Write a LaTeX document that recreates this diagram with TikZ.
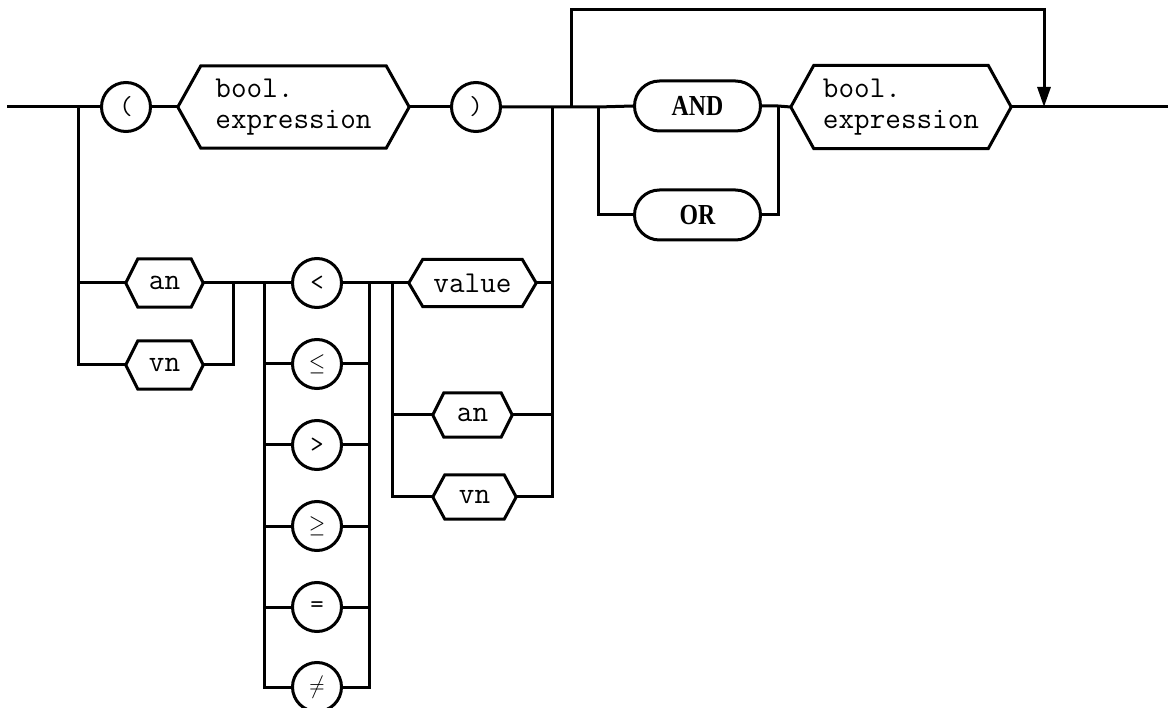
\documentclass[tikz,border=0pt]{standalone}
\usepackage{fontspec}
\usepackage{graphicx}
\newfontfamily\kwfont{Liberation Serif}
\usetikzlibrary{shapes.misc,arrows.meta}
\tikzset{
  conn/.style={line width=3pt},
  term/.style={circle, draw, line width=3pt, minimum size=49pt, inner sep=0pt, font=\fontsize{26}{26}\selectfont\ttfamily},
  hexn/.style={rectangle, draw=none, inner sep=0pt, font=\fontsize{30.3}{31}\selectfont\ttfamily, align=left},
  kw/.style={rounded rectangle, draw, line width=3pt, minimum width=126pt, minimum height=50pt, inner sep=0pt},
  hexline/.style={line width=3pt, line join=miter},
}
\newcommand\hexout[2]{\draw[hexline] (#1.west) -- ([xshift=#2]#1.north west) -- ([xshift=-#2]#1.north east) -- (#1.east) -- ([xshift=-#2]#1.south east) -- ([xshift=#2]#1.south west) -- cycle;}
\newcommand\kwtext[1]{\scalebox{0.82}[1]{\kwfont\bfseries\fontsize{29}{29}\selectfont #1}}
\newcommand\symb[1]{\scalebox{0.85}[1]{\fontsize{27}{27}\selectfont$#1$}}
\begin{document}
\begin{tikzpicture}[x=1pt,y=-1pt]
\useasboundingbox (0,0) rectangle (1168,708);

% nodes
\node[term] (lp) at (126,107) {(};
\node[hexn, minimum width=231pt, minimum height=82pt] (bx1) at (293.5,107) {bool.\\expression};
\node[term] (rp) at (476,107) {)};
\node[kw] (AND) at (697.5,106) {\kwtext{AND}};
\node[kw] (OR) at (697.5,215) {\kwtext{OR}};
\node[hexn, minimum width=220pt, minimum height=83pt] (bx2) at (901,107) {bool.\\expression};

\node[hexn, minimum width=77pt, minimum height=48pt] (an1) at (164.5,283) {an};
\node[hexn, minimum width=77pt, minimum height=48pt] (vn1) at (164.5,365) {vn};

\node[term] (c1) at (317,283) {<};
\node[term] (c2) at (317,364) {\symb{\leq}};
\node[term] (c3) at (317,445) {>};
\node[term] (c4) at (317,526) {\symb{\geq}};
\node[term] (c5) at (317,607) {=};
\node[term] (c6) at (317,687) {\symb{\neq}};

\node[hexn, minimum width=127pt, minimum height=47pt] (value) at (472.5,283) {value};
\node[hexn, minimum width=79pt, minimum height=44pt] (an2) at (472.5,415) {an};
\node[hexn, minimum width=83pt, minimum height=44pt] (vn2) at (474.5,497) {vn};

\hexout{bx1}{23pt}
\hexout{bx2}{23pt}
\hexout{an1}{12pt}
\hexout{vn1}{12pt}
\hexout{value}{14pt}
\hexout{an2}{11pt}
\hexout{vn2}{12pt}

% junction coordinates
\coordinate (start) at (7,107);
\coordinate (endp) at (1168,107);
\coordinate (L1) at (78,107);
\coordinate (A1) at (233,283);
\coordinate (CL) at (264,283);
\coordinate (CR) at (369,283);
\coordinate (V1) at (392,283);
\coordinate (R1) at (552,107);
\coordinate (T1) at (571,107);
\coordinate (O1) at (598,107);
\coordinate (O2) at (778,107);
\coordinate (T2) at (1044,107);
\coordinate (top) at (800,10);

% main line
\draw[conn] (start) -- (lp.west);
\draw[conn] (lp.east) -- (bx1.west);
\draw[conn] (bx1.east) -- (rp.west);
\draw[conn] (rp.east) -- (rp.east -| O1) -- (AND.west);
\draw[conn] (AND.east) -- (AND.east -| O2) -- (bx2.west);
\draw[conn] (bx2.east) -- (endp);

% left alternative
\draw[conn] (L1) -- (L1 |- vn1) -- (vn1.west);
\draw[conn] (an1.west -| L1) -- (an1.west);
\draw[conn] (an1.east) -- (c1.west);
\draw[conn] (vn1.east) -- (vn1.east -| A1) -- (A1);

% comparators
\draw[conn] (CL) -- (CL |- c6) -- (c6.west);
\draw[conn] (CR) -- (CR |- c6) -- (c6.east);
\foreach \c in {c2,c3,c4,c5}{
  \draw[conn] (\c.west -| CL) -- (\c.west);
  \draw[conn] (\c.east) -- (\c.east -| CR);
}
\draw[conn] (c1.east) -- (value.west);

% value alternatives
\draw[conn] (V1) -- (V1 |- vn2) -- (vn2.west);
\draw[conn] (an2.west -| V1) -- (an2.west);
\draw[conn] (R1) -- (R1 |- vn2) -- (vn2.east);
\draw[conn] (value.east) -- (value.east -| R1);
\draw[conn] (an2.east) -- (an2.east -| R1);

% AND / OR
\draw[conn] (O1) -- (O1 |- OR) -- (OR.west);
\draw[conn] (O2) -- (O2 |- OR) -- (OR.east);

% loop
\draw[conn, -{Triangle[length=20pt,width=13pt]}] (T1) -- (T1 |- top) -- (T2 |- top) -- (T2);
\end{tikzpicture}
\end{document}
